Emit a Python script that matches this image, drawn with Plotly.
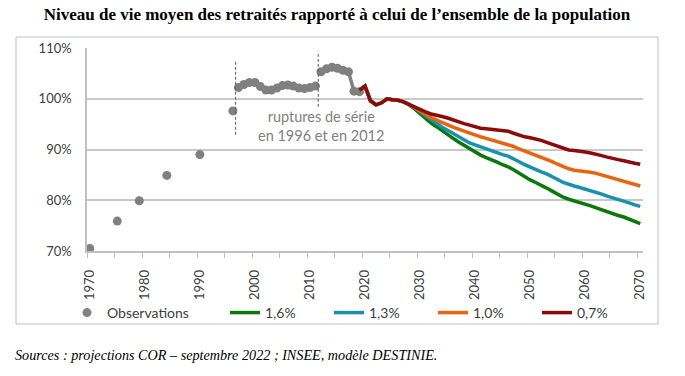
import plotly.graph_objects as go

# ---------------- data ----------------
early_years = [1970, 1975, 1979, 1984, 1990, 1996]
early_vals = [70.5, 75.9, 79.9, 84.9, 89.0, 97.6]

obs1_years = list(range(1997, 2012))
obs1_vals = [102.2, 102.8, 103.2, 103.2, 102.4, 101.7, 101.7, 102.1, 102.6,
             102.7, 102.5, 102.1, 102.0, 102.2, 102.5]

obs2_years = list(range(2012, 2020))
obs2_vals = [105.3, 105.9, 106.2, 106.0, 105.6, 105.3, 101.5, 101.4]

common_years = list(range(2019, 2027))
common_vals = [101.7, 102.5, 99.6, 98.8, 99.2, 100.0, 99.8, 99.7]

proj_years = list(range(2027, 2071))
g16 = [99.4, 98.8, 98.0, 97.0, 96.0, 95.2, 94.5, 93.8, 93.0, 92.2, 91.5, 90.8,
       90.1, 89.5, 88.9, 88.4, 88.0, 87.5, 87.0, 86.6, 86.0, 85.3, 84.6, 84.0,
       83.5, 83.0, 82.4, 81.8, 81.2, 80.6, 80.2, 79.9, 79.5, 79.2, 78.9, 78.5,
       78.1, 77.7, 77.3, 77.0, 76.7, 76.3, 75.9, 75.4]
g13 = [99.4, 98.9, 98.2, 97.4, 96.6, 95.8, 95.1, 94.4, 93.8, 93.2, 92.5, 91.9,
       91.3, 90.9, 90.5, 90.2, 89.8, 89.4, 89.0, 88.7, 88.2, 87.6, 87.0, 86.5,
       86.1, 85.6, 85.2, 84.7, 84.1, 83.5, 83.1, 82.8, 82.5, 82.2, 81.9, 81.6,
       81.2, 80.8, 80.5, 80.1, 79.8, 79.5, 79.1, 78.8]
g10 = [99.4, 98.9, 98.3, 97.6, 96.9, 96.3, 95.8, 95.3, 94.9, 94.4, 94.0, 93.6,
       93.2, 92.8, 92.5, 92.2, 91.9, 91.6, 91.3, 91.0, 90.6, 90.1, 89.7, 89.3,
       88.9, 88.5, 88.1, 87.6, 87.1, 86.6, 86.2, 85.9, 85.8, 85.7, 85.5, 85.3,
       85.0, 84.7, 84.3, 84.0, 83.8, 83.4, 83.1, 82.8]
g07 = [99.4, 98.9, 98.3, 97.8, 97.4, 97.0, 96.8, 96.5, 96.2, 95.8, 95.4, 95.1,
       94.8, 94.5, 94.2, 94.1, 94.0, 93.9, 93.8, 93.6, 93.2, 92.8, 92.5, 92.3,
       92.1, 91.8, 91.4, 91.0, 90.6, 90.2, 89.9, 89.8, 89.7, 89.5, 89.3, 89.1,
       88.8, 88.5, 88.2, 88.0, 87.8, 87.5, 87.3, 87.1]

scenario_names = ["1,6%", "1,3%", "1,0%", "0,7%"]
scenario_vals = [g16, g13, g10, g07]
scenario_colors = ["#0B780B", "#1792AE", "#E8640E", "#8C0A0A"]

break_years = [1996.5, 2011.5]
break_ranges = [(92.9, 107.5), (98.4, 109.3)]

x_tick_vals = list(range(1970, 2071, 10))
x_tick_labels = [str(y) for y in x_tick_vals]
y_tick_vals = [70, 80, 90, 100, 110]
y_tick_labels = ["70%", "80%", "90%", "100%", "110%"]

# ---------------- figure ----------------
W, H = 685, 376
ML, MR, MT, MB = 87, 42, 48, 125
PW, PH = W - ML - MR, H - MT - MB

def px_x(p):
    return (p - ML) / PW

def px_y(p):
    return (H - MB - p) / PH

GRAY = "#808080"
FONT = "Lato"
TXT = "#404040"

fig = go.Figure()

for ys, vs in [(obs1_years, obs1_vals), (obs2_years, obs2_vals)]:
    fig.add_trace(go.Scatter(
        x=ys, y=vs, mode="lines+markers",
        line=dict(color=GRAY, width=3.5),
        marker=dict(color=GRAY, size=9),
        showlegend=False, legendgroup="obs"))

fig.add_trace(go.Scatter(
    x=early_years, y=early_vals, mode="markers", name="Observations",
    marker=dict(color=GRAY, size=9), legendgroup="obs", showlegend=True,
    cliponaxis=False))

for name, vals, col in zip(scenario_names, scenario_vals, scenario_colors):
    fig.add_trace(go.Scatter(
        x=common_years + proj_years, y=common_vals + vals,
        mode="lines", name=name, line=dict(color=col, width=3.5),
        legend="legend2", showlegend=True))

for bx, (b0, b1) in zip(break_years, break_ranges):
    fig.add_shape(type="line", xref="x", yref="y", x0=bx, x1=bx, y0=b0, y1=b1,
                  line=dict(color="#595959", width=1, dash="3px,2px"))

fig.add_annotation(xref="x", yref="y", x=2012, y=94.6,
                   text="ruptures de série<br>en 1996 et en 2012",
                   showarrow=False, font=dict(family=FONT, size=14.5, color=GRAY))

# outer frame
fig.add_shape(type="rect", xref="paper", yref="paper",
              x0=px_x(16), x1=px_x(658), y0=px_y(324), y1=px_y(37),
              line=dict(color="#BFBFBF", width=1), layer="below")

fig.add_annotation(xref="paper", yref="paper", x=px_x(13), y=px_y(355),
                   xanchor="left", yanchor="middle", showarrow=False,
                   text="<i>Sources : projections COR – septembre 2022 ; INSEE, modèle DESTINIE.</i>",
                   font=dict(family="Liberation Serif", size=14.2, color="#000000"))

fig.update_layout(
    width=W, height=H,
    margin=dict(l=ML, r=MR, t=MT, b=MB, autoexpand=False),
    paper_bgcolor="white", plot_bgcolor="white",
    title=dict(text="Niveau de vie moyen des retraités rapporté à celui de l’ensemble de la population",
               x=337 / W, y=1 - 14 / H, xref="container", yref="container",
               xanchor="center", yanchor="middle",
               font=dict(family="Liberation Serif", size=17, color="#000000", weight="bold")),
    legend=dict(orientation="h", xref="container", yref="container",
                x=67 / W, y=1 - 313 / H, xanchor="left", yanchor="middle",
                font=dict(family=FONT, size=14, color=TXT), bgcolor="rgba(0,0,0,0)"),
    legend2=dict(orientation="h", xref="container", yref="container",
                 x=225 / W, y=1 - 313 / H, xanchor="left", yanchor="middle",
                 entrywidth=59, entrywidthmode="pixels",
                 font=dict(family=FONT, size=14, color=TXT), bgcolor="rgba(0,0,0,0)"),
    showlegend=True,
)

fig.update_xaxes(
    range=[1969.5, 2070.5], tickvals=x_tick_vals, ticktext=x_tick_labels,
    tickangle=-90, ticks="", showgrid=False, zeroline=False,
    showline=True, linecolor="#BFBFBF", linewidth=1.5,
    ticklabelstandoff=12,
    tickfont=dict(family=FONT, size=13, color=TXT),
    minor=dict(tick0=1969.5, dtick=5, ticks="outside", ticklen=5, tickcolor="#BFBFBF",
               tickwidth=1, showgrid=False),
)
fig.update_yaxes(
    range=[70, 110], tickvals=y_tick_vals, ticktext=y_tick_labels, ticks="",
    showgrid=True, gridcolor="#C8C8C8", gridwidth=1.5, zeroline=False,
    showline=True, linecolor="#BFBFBF", linewidth=1.5,
    ticklabelstandoff=11,
    tickfont=dict(family=FONT, size=13, color=TXT),
)

fig.write_html("out.html", config={"displayModeBar": False},
               post_script="document.body.style.margin='0';")
